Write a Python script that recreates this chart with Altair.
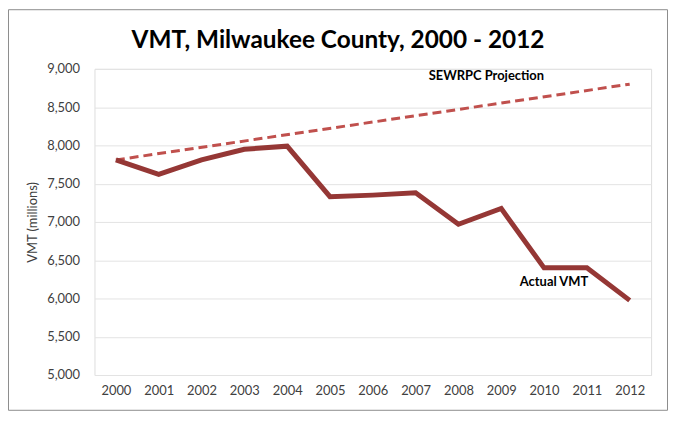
import altair as alt
import pandas as pd

years = ["2000", "2001", "2002", "2003", "2004", "2005", "2006",
         "2007", "2008", "2009", "2010", "2011", "2012"]
actual_vmt = [7810, 7620, 7810, 7950, 7990, 7330, 7350,
              7380, 6970, 7175, 6400, 6400, 5975]
proj_years = ["2000", "2012"]
proj_vmt = [7810, 8800]
proj_label = ["SEWRPC Projection"]
proj_label_year = ["2009"]
proj_label_vmt = [8910]
act_label = ["Actual VMT"]
act_label_year = ["2010"]
act_label_vmt = [6220]
y_ticks = [5000, 5500, 6000, 6500, 7000, 7500, 8000, 8500, 9000]

actual_df = pd.DataFrame({"year": years, "vmt": actual_vmt})
proj_df = pd.DataFrame({"year": proj_years, "vmt": proj_vmt})
proj_lab_df = pd.DataFrame({"year": proj_label_year, "vmt": proj_label_vmt, "text": proj_label})
act_lab_df = pd.DataFrame({"year": act_label_year, "vmt": act_label_vmt, "text": act_label})

FONT = "Lato"
W, H = 560, 308
PAD_L, PAD_T, PAD_R, PAD_B = 87, 60, 17, 36
TOTAL_W = PAD_L + W + PAD_R
TOTAL_H = PAD_T + H + PAD_B

x_enc = alt.X("year:O", scale=alt.Scale(type="point", padding=0.5, domain=years),
              axis=alt.Axis(labelAngle=0, domain=False, ticks=False, grid=False,
                            labelPadding=10, labelFontSize=13, labelColor="#404040",
                            labelFont=FONT, title=None))
y_enc = alt.Y("vmt:Q", scale=alt.Scale(domain=[5000, 9000], nice=False, zero=False),
              axis=alt.Axis(values=y_ticks, format=",.0f", domain=False, ticks=False,
                            grid=True, gridColor="#e3e3e3", gridWidth=1,
                            labelPadding=15, labelFontSize=13, labelColor="#404040",
                            labelFont=FONT, title="VMT (millions)", titleFont=FONT,
                            titleFontSize=13, titleFontWeight="normal",
                            titleColor="#404040", titlePadding=7))

frame = alt.Chart(pd.DataFrame({"a": [0]})).mark_rect(
    fill=None, stroke="#8c8c8c", strokeWidth=1
).encode(
    x=alt.value(-PAD_L + 0.5), x2=alt.value(TOTAL_W - PAD_L - 0.5),
    y=alt.value(-PAD_T + 0.5), y2=alt.value(TOTAL_H - PAD_T - 0.5)
)

proj_line = alt.Chart(proj_df).mark_line(
    color="#C0504D", strokeWidth=3, strokeDash=[9, 5]
).encode(x=x_enc, y=y_enc)

actual_line = alt.Chart(actual_df).mark_line(
    color="#953735", strokeWidth=5, strokeJoin="miter"
).encode(x=x_enc, y=y_enc)

proj_text = alt.Chart(proj_lab_df).mark_text(
    font=FONT, fontSize=13, fontWeight="bold", color="#000000", baseline="middle", dx=-15
).encode(x=x_enc, y=y_enc, text="text:N")

act_text = alt.Chart(act_lab_df).mark_text(
    font=FONT, fontSize=13, fontWeight="bold", color="#000000", baseline="middle", dx=10
).encode(x=x_enc, y=y_enc, text="text:N")

chart = alt.layer(frame, proj_line, actual_line, proj_text, act_text).properties(
    width=W, height=H,
    padding={"left": PAD_L, "top": PAD_T, "right": PAD_R, "bottom": PAD_B},
    autosize=alt.AutoSizeParams(type="none"),
    title=alt.TitleParams("VMT, Milwaukee County, 2000 - 2012", font=FONT,
                          fontSize=24.5, fontWeight="bold", color="#000000",
                          anchor="middle", frame="group", dx=-35, offset=-69,
                          baseline="bottom"),
).configure_view(stroke=None).configure(background="white")

chart.save("out.html", embed_options={"renderer": "svg", "actions": False})
